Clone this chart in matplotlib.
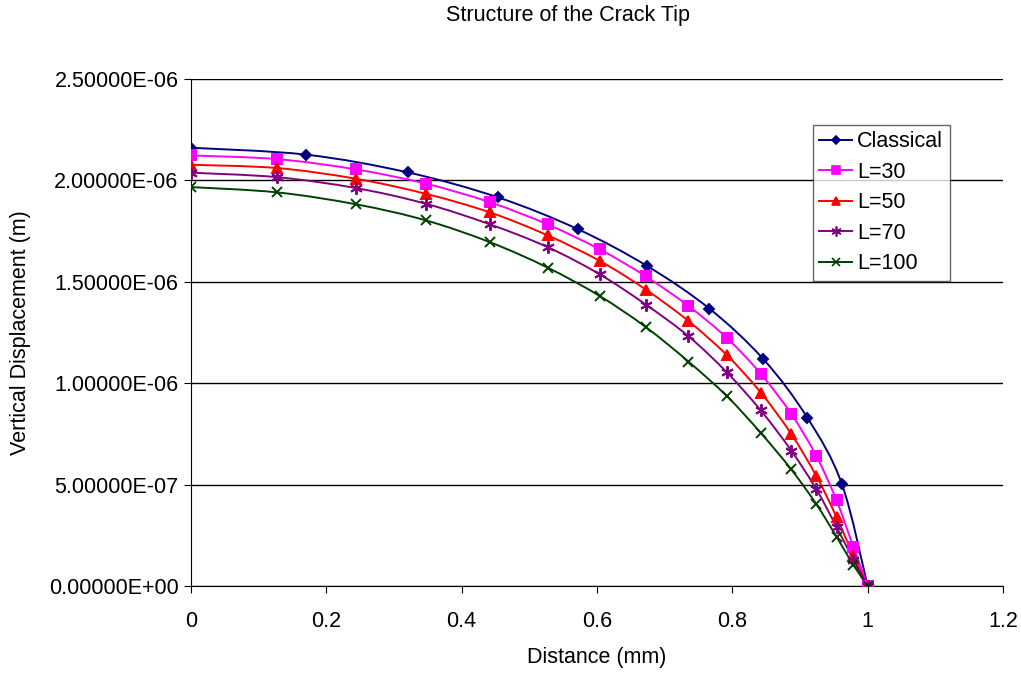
import numpy as np
import matplotlib
matplotlib.use('Agg')
from matplotlib import pyplot as plt
from matplotlib.path import Path
from matplotlib.patches import PathPatch
from matplotlib.ticker import FormatStrFormatter

plt.rcParams['font.family'] = ['Liberation Sans', 'DejaVu Sans']

# values (y in units of 1e-6 m)
x_classical = [0, 0.170, 0.321, 0.454, 0.572, 0.674, 0.766, 0.846, 0.911, 0.962, 1.0]
y_classical = [2.161, 2.127, 2.039, 1.916, 1.759, 1.578, 1.368, 1.118, 0.829, 0.502, 0.0]

x_L = [0, 0.127, 0.244, 0.347, 0.442, 0.527, 0.604, 0.672, 0.735, 0.792, 0.842,
       0.887, 0.924, 0.954, 0.979, 1.0]
y_L30 = [2.123, 2.105, 2.054, 1.984, 1.892, 1.783, 1.660, 1.527, 1.381, 1.223, 1.046,
         0.849, 0.642, 0.422, 0.192, 0.0]
y_L50 = [2.077, 2.061, 2.008, 1.934, 1.842, 1.729, 1.603, 1.462, 1.307, 1.138, 0.954,
         0.750, 0.543, 0.340, 0.148, 0.0]
y_L70 = [2.038, 2.016, 1.962, 1.885, 1.783, 1.671, 1.537, 1.388, 1.232, 1.053, 0.866,
         0.668, 0.478, 0.291, 0.128, 0.0]
y_L100 = [1.967, 1.941, 1.882, 1.803, 1.695, 1.570, 1.430, 1.277, 1.107, 0.936, 0.755,
          0.575, 0.404, 0.243, 0.103, 0.0]

series = [
    ('Classical', x_classical, y_classical, '#000080', 'D', 5.5),
    ('L=30', x_L, y_L30, '#FF00FF', 's', 7),
    ('L=50', x_L, y_L50, '#FF0000', '^', 7.5),
    ('L=70', x_L, y_L70, '#800080', (6, 2, 0), 9),
    ('L=100', x_L, y_L100, '#004000', 'x', 6.5),
]


def smooth_path(x, y):
    # Excel-like smoothed line: cubic bezier segments through the data points
    p = np.column_stack([x, y]) * [1.0, 1e-6]
    verts = [p[0]]
    codes = [Path.MOVETO]
    n = len(p)
    for i in range(n - 1):
        p0 = p[i - 1] if i > 0 else p[i]
        p3 = p[i + 2] if i + 2 < n else p[i + 1]
        c1 = p[i] + (p[i + 1] - p0) / 6
        c2 = p[i + 1] - (p3 - p[i]) / 6
        verts += [c1, c2, p[i + 1]]
        codes += [Path.CURVE4] * 3
    return Path(verts, codes)


fs = 15.5
fig = plt.figure(figsize=(10.21, 6.73), dpi=100)
ax = fig.add_axes([191 / 1021, 87 / 673, 812 / 1021, 507 / 673])

for name, xs, ys, col, mk, ms in series:
    ax.add_patch(PathPatch(smooth_path(xs, ys), facecolor='none', edgecolor=col, lw=1.4, zorder=3))
    ax.plot(xs, np.array(ys) * 1e-6, linestyle='none', marker=mk, color=col, markersize=ms,
            markeredgewidth=1.4, zorder=4)
    # proxy for legend
    ax.plot([], [], color=col, marker=mk, markersize=ms * 0.8, lw=1.4, markeredgewidth=1.2, label=name)

ax.set_xlim(0, 1.2)
ax.set_ylim(0, 2.5e-6)
ax.set_xticks(np.arange(0, 1.21, 0.2))
ax.set_xticklabels(['0', '0.2', '0.4', '0.6', '0.8', '1', '1.2'])
ax.set_yticks(np.arange(0, 2.51e-6, 0.5e-6))
ax.yaxis.set_major_formatter(FormatStrFormatter('%.5E'))
ax.yaxis.get_offset_text().set_visible(False)
ax.grid(axis='y', color='black', lw=1)
ax.set_axisbelow(True)
for s in ['top', 'right']:
    ax.spines[s].set_visible(False)
ax.tick_params(direction='out', length=5, labelsize=fs, colors='black')
ax.tick_params(axis='x', pad=13)
ax.tick_params(axis='y', pad=4)
ax.set_xlabel('Distance (mm)', fontsize=fs, labelpad=11)
ax.set_ylabel('Vertical Displacement (m)', fontsize=fs, labelpad=13)

fig.text(568 / 1021, 1 - 16 / 673, 'Structure of the Crack Tip', ha='center', va='center', fontsize=fs)

leg = ax.legend(loc='upper left', bbox_to_anchor=((813 - 191) / 812, (586 - 125) / 507),
                fontsize=fs, frameon=True, fancybox=False, handlelength=1.5,
                borderaxespad=0, handletextpad=0.25, labelspacing=0.44, borderpad=0.3)
leg.get_frame().set_edgecolor('#404040')
leg.get_frame().set_linewidth(1)

fig.savefig('out.png', dpi=100)
